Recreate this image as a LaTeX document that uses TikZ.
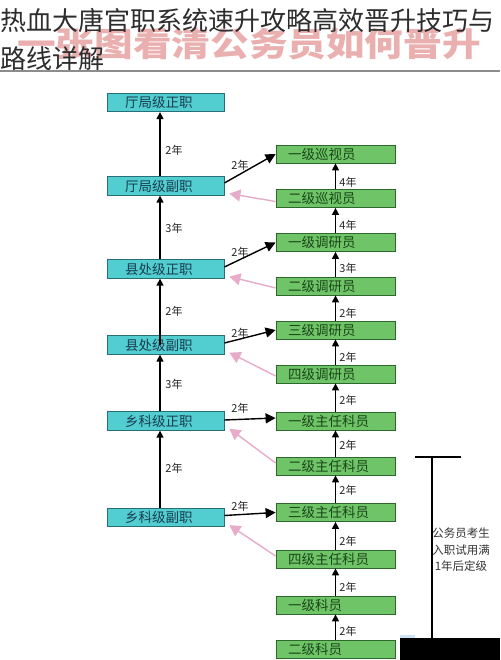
\documentclass[tikz,border=0pt]{standalone}
\usepackage{fontspec}
\setmainfont{Noto Sans CJK SC}
\usetikzlibrary{arrows.meta}
\definecolor{cyanfill}{RGB}{82,206,208}
\definecolor{cyanedge}{RGB}{40,110,120}
\definecolor{cyantext}{RGB}{25,60,80}
\definecolor{greenfill}{RGB}{112,196,104}
\definecolor{greenedge}{RGB}{45,105,45}
\definecolor{greentext}{RGB}{25,70,25}
\definecolor{pinkarrow}{RGB}{230,172,200}
\definecolor{wmark}{RGB}{234,176,176}
\definecolor{titlegray}{RGB}{45,45,45}
\definecolor{rulegray}{RGB}{140,140,140}
\definecolor{lightblue}{RGB}{205,228,245}
\tikzset{
  cbox/.style={draw=cyanedge, line width=0.8pt, fill=cyanfill, text=cyantext,
    font=\fontsize{13.5}{14}\selectfont, minimum height=18.5pt, text width=81pt,
    inner xsep=18pt, inner ysep=0pt, align=left},
  gbox/.style={draw=greenedge, line width=0.8pt, fill=greenfill, text=greentext,
    font=\fontsize{13.5}{14}\selectfont, minimum height=18pt, text width=95pt,
    inner xsep=12pt, inner ysep=0pt, align=left},
  varrow/.style={draw=black, line width=1.4pt, -{Triangle[length=7pt,width=7pt]}},
  darrow/.style={draw=black, line width=1.4pt, -{Triangle[length=10pt,width=10pt]}},
  parrow/.style={draw=pinkarrow, line width=1.4pt, -{Triangle[length=11pt,width=12pt]}},
  yrlabel/.style={text=black!85, font=\fontsize{11}{12}\selectfont, inner sep=0pt},
}
\begin{document}
\begin{tikzpicture}[x=1pt,y=-1pt]
\useasboundingbox (0,0) rectangle (500,660);
\fill[white] (0,0) rectangle (500,660);
% watermark and title
\node[text=wmark, font=\bfseries\fontsize{33}{33}\selectfont, inner sep=0pt] (wm) at (249,44)
  {\scalebox{1.17}[1]{一张图看清公务员如何晋升}};
\node[anchor=west, text=titlegray, font=\fontsize{26}{26}\selectfont, inner sep=0pt] (t1) at (0,21)
  {热血大唐官职系统速升攻略高效晋升技巧与};
\node[anchor=west, text=titlegray, font=\fontsize{26}{26}\selectfont, inner sep=0pt] (t2) at (0,59)
  {路线详解};
\coordinate (r1) at (0,71);
\coordinate (r2) at (500,71);
\draw[rulegray, line width=1.2pt] (r1) -- (r2);

% left column
\node[cbox] (c1) at (165.5,102.5) {厅局级正职};
\node[cbox] (c2) at (165.5,186) {厅局级副职};
\node[cbox] (c3) at (165.5,269) {县处级正职};
\node[cbox] (c4) at (165.5,345) {县处级副职};
\node[cbox] (c5) at (165.5,421) {乡科级正职};
\node[cbox] (c6) at (165.5,517.5) {乡科级副职};

% right column
\node[gbox] (g1) at (335.5,154) {一级巡视员};
\node[gbox] (g2) at (335.5,198.5) {二级巡视员};
\node[gbox] (g3) at (335.5,242.5) {一级调研员};
\node[gbox] (g4) at (335.5,286) {二级调研员};
\node[gbox] (g5) at (335.5,330) {三级调研员};
\node[gbox] (g6) at (335.5,374) {四级调研员};
\node[gbox] (g7) at (335.5,421) {一级主任科员};
\node[gbox] (g8) at (335.5,466) {二级主任科员};
\node[gbox] (g9) at (335.5,512.5) {三级主任科员};
\node[gbox] (g10) at (335.5,559) {四级主任科员};
\node[gbox] (g11) at (335.5,605) {一级科员};
\node[gbox] (g12) at (335.5,649) {二级科员};

% left vertical arrows
\draw[varrow] ([xshift=-5.5pt]c2.north) -- ([xshift=-5.5pt]c1.south);
\draw[varrow] ([xshift=-5.5pt]c3.north) -- ([xshift=-5.5pt]c2.south);
\draw[varrow] ([xshift=-5.5pt]c4.center) -- ([xshift=-5.5pt]c3.south);
\draw[varrow] ([xshift=-5.5pt]c5.north) -- ([xshift=-5.5pt]c4.south);
\draw[varrow] ([xshift=-5.5pt]c6.north) -- ([xshift=-5.5pt]c5.south);
\node[yrlabel] (l1) at (174,150) {2年};
\node[yrlabel] (l2) at (174,228) {3年};
\node[yrlabel] (l3) at (174,311) {2年};
\node[yrlabel] (l4) at (174,384) {3年};
\node[yrlabel] (l5) at (174,468) {2年};

% right vertical arrows
\draw[varrow] (g2.north) -- (g1.south);
\draw[varrow] (g3.north) -- (g2.south);
\draw[varrow] (g4.north) -- (g3.south);
\draw[varrow] (g5.north) -- (g4.south);
\draw[varrow] (g6.north) -- (g5.south);
\draw[varrow] (g7.north) -- (g6.south);
\draw[varrow] (g8.north) -- (g7.south);
\draw[varrow] (g9.north) -- (g8.south);
\draw[varrow] (g10.north) -- (g9.south);
\draw[varrow] (g11.north) -- (g10.south);
\draw[varrow] (g12.north) -- (g11.south);
\node[yrlabel] (m1) at (348,182) {4年};
\node[yrlabel] (m2) at (348,225) {4年};
\node[yrlabel] (m3) at (348,268) {3年};
\node[yrlabel] (m4) at (348,313) {2年};
\node[yrlabel] (m5) at (348,357) {2年};
\node[yrlabel] (m6) at (348,400) {2年};
\node[yrlabel] (m7) at (348,445) {2年};
\node[yrlabel] (m8) at (348,490) {2年};
\node[yrlabel] (m9) at (348,541) {2年};
\node[yrlabel] (m10) at (348,587) {2年};
\node[yrlabel] (m11) at (348,631) {2年};

% diagonal promotions
\draw[darrow] ([yshift=3pt]c2.east) -- (g1.west);
\draw[darrow] ([yshift=2pt]c3.east) -- (g3.west);
\draw[darrow] ([yshift=2pt]c4.east) -- (g5.west);
\draw[darrow] ([yshift=1pt]c5.east) -- ([yshift=3pt]g7.west);
\draw[darrow] ([yshift=2pt]c6.east) -- (g9.west);
\node[yrlabel] (d1) at (240,165) {2年};
\node[yrlabel] (d2) at (240,252) {2年};
\node[yrlabel] (d3) at (240,333) {2年};
\node[yrlabel] (d4) at (240,408) {2年};
\node[yrlabel] (d5) at (240,506) {2年};

% pink arrows
\draw[parrow] ([yshift=-3pt]g2.west) -- ([shift={(5,-2)}]c2.south east);
\draw[parrow] ([yshift=-2pt]g4.west) -- ([shift={(5,-2)}]c3.south east);
\draw[parrow] ([yshift=-2pt]g6.west) -- ([shift={(5,-2)}]c4.south east);
\draw[parrow] ([yshift=3pt]g8.west) -- ([shift={(5,-2)}]c5.south east);
\draw[parrow] ([yshift=3pt]g10.west) -- ([shift={(5,-2)}]c6.south east);

% bracket
\coordinate (bt1) at (415,457);
\coordinate (bt2) at (461,457);
\coordinate (bv1) at (432,457);
\coordinate (bv2) at (432,638);
\draw[black, line width=1.4pt] (bt1) -- (bt2);
\draw[black, line width=1.4pt] (bv1) -- (bv2);
\node[text=black!80, font=\fontsize{11.5}{16.5}\selectfont, align=center, inner sep=0pt] (note) at (461,550)
  {公务员考生\\入职试用满\\1年后定级};
\fill[lightblue] (400,635) rectangle (415,639);
\fill[black] (400,638) rectangle (500,660);
\end{tikzpicture}
\end{document}
